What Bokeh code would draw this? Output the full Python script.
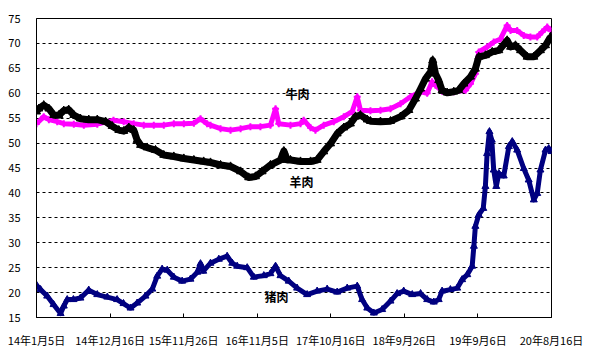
from bokeh.plotting import figure
from bokeh.models import FixedTicker, Range1d
from bokeh.core.properties import value
from bokeh.embed import file_html
from bokeh.resources import INLINE

# tick positions (days since 2014-01-05) and labels
tick_days = [0, 345, 690, 1035, 1380, 1725, 2070, 2415]
tick_labels = ["14年1月5日", "14年12月16日", "15年11月26日", "16年11月5日",
               "17年10月16日", "18年9月26日", "19年9月6日", "20年8月16日"]

# 牛肉 (beef)
beef_days = [0, 34, 58, 97, 128, 175, 222, 285, 361, 409, 456, 503, 550, 597, 644, 691,
             738, 769, 800, 816, 863, 910, 957, 1003, 1050, 1097, 1121, 1136, 1191, 1238,
             1253, 1285, 1308, 1347, 1394, 1441, 1480, 1504, 1519, 1566, 1613, 1660, 1707,
             1754, 1801, 1832, 1855, 1871, 1902, 1957, 2012, 2035, 2058, 2074, 2113, 2144,
             2176, 2207, 2223, 2254, 2285, 2316, 2348, 2371, 2395, 2410]
beef = [53.9, 55.3, 54.7, 54.3, 53.9, 53.8, 53.6, 53.8, 54.6, 54.3, 53.9, 53.6, 53.6, 53.6,
        53.9, 53.9, 54.0, 54.9, 53.9, 53.6, 52.9, 52.6, 52.9, 53.3, 53.3, 53.6, 56.9, 53.9,
        53.6, 53.9, 54.6, 53.1, 52.6, 53.6, 54.3, 55.3, 56.3, 59.3, 56.6, 56.5, 56.6, 56.9,
        57.9, 59.3, 60.3, 60.0, 62.3, 61.6, 60.4, 60.3, 60.6, 61.9, 63.9, 68.3, 69.3, 70.3,
        70.9, 73.6, 72.6, 72.6, 71.6, 71.3, 71.3, 72.3, 73.3, 72.6]

# 羊肉 (mutton)
mutton_days = [0, 11, 34, 58, 81, 105, 128, 151, 175, 206, 245, 285, 324, 355, 386, 409, 433,
               456, 472, 488, 519, 558, 597, 644, 691, 738, 784, 816, 863, 910, 957, 995,
               1027, 1058, 1097, 1144, 1160, 1176, 1191, 1238, 1285, 1316, 1347, 1379, 1410,
               1441, 1472, 1496, 1519, 1551, 1566, 1613, 1660, 1707, 1746, 1777, 1801, 1824,
               1848, 1858, 1871, 1886, 1902, 1926, 1957, 1980, 2004, 2035, 2058, 2074, 2105,
               2137, 2168, 2207, 2223, 2246, 2270, 2301, 2332, 2363, 2387, 2410]
mutton = [56.3, 56.9, 57.6, 56.9, 55.6, 55.6, 56.5, 56.7, 55.6, 54.9, 54.7, 54.7, 54.3, 53.4,
          52.6, 52.4, 53.1, 52.6, 50.6, 49.6, 49.1, 48.6, 47.6, 47.3, 46.9, 46.6, 46.3, 46.1,
          45.6, 45.3, 44.3, 43.1, 43.3, 44.3, 45.6, 46.6, 48.4, 46.6, 46.6, 46.3, 46.3, 46.6,
          48.3, 49.9, 51.9, 53.1, 53.9, 55.3, 55.6, 54.7, 54.4, 54.3, 54.4, 55.3, 56.6, 58.9,
          60.9, 62.9, 64.3, 66.6, 63.9, 62.6, 60.6, 60.1, 60.3, 60.6, 61.9, 63.3, 64.9, 67.3,
          67.6, 68.3, 68.6, 70.6, 69.3, 69.6, 68.6, 67.3, 67.3, 68.6, 69.6, 71.3]

# 猪肉 (pork)
pork_days = [0, 19, 50, 80, 113, 128, 144, 173, 206, 245, 285, 332, 378, 408, 441, 472, 511,
             543, 566, 589, 613, 644, 683, 722, 754, 769, 782, 816, 855, 894, 918, 941, 988,
             1019, 1066, 1097, 1121, 1144, 1183, 1222, 1269, 1316, 1363, 1410, 1457, 1504,
             1527, 1551, 1582, 1621, 1660, 1691, 1722, 1762, 1801, 1832, 1863, 1886, 1902,
             1941, 1973, 1996, 2020, 2043, 2051, 2058, 2074, 2095, 2105, 2113, 2124, 2135,
             2144, 2156, 2168, 2191, 2215, 2231, 2254, 2285, 2308, 2332, 2348, 2363, 2387,
             2402, 2415]
pork = [21.5, 20.6, 19.3, 17.6, 15.8, 17.3, 18.6, 18.6, 18.9, 20.5, 19.6, 19.1, 18.6, 17.8,
        16.9, 17.9, 19.3, 20.7, 23.3, 24.7, 24.5, 23.1, 22.3, 22.7, 24.1, 25.8, 24.3, 25.9,
        26.7, 27.3, 25.9, 25.3, 25.0, 23.1, 23.4, 23.8, 25.3, 23.4, 22.3, 20.9, 19.6, 20.3,
        20.7, 20.1, 20.9, 21.3, 18.6, 16.9, 15.9, 16.6, 18.3, 19.8, 20.3, 19.6, 19.8, 18.6,
        18.1, 18.6, 20.3, 20.6, 20.9, 22.6, 23.6, 25.3, 29.3, 33.3, 35.6, 36.9, 41.3, 47.9,
        52.3, 50.6, 44.6, 41.3, 43.9, 43.4, 49.3, 50.3, 48.6, 44.9, 42.6, 38.6, 39.9, 44.6,
        48.6, 48.9, 48.3]

labels = ["牛肉", "羊肉", "猪肉"]
label_x = [1224, 1243, 1125]
label_y = [60.0, 42.2, 19.2]

p = figure(width=600, height=358, output_backend="svg", toolbar_location=None,
           x_range=Range1d(0, 2415), y_range=Range1d(15, 75))
p.min_border_left = 36
p.min_border_right = 49
p.min_border_top = 18
p.min_border_bottom = 41
p.background_fill_color = "white"
p.border_fill_color = "white"
p.outline_line_color = "black"
p.outline_line_width = 1

p.xgrid.visible = False
p.ygrid.ticker = FixedTicker(ticks=list(range(20, 75, 5)))
p.ygrid.grid_line_color = "black"
p.ygrid.grid_line_dash = "3 3"
p.ygrid.grid_line_width = 1

p.yaxis.ticker = FixedTicker(ticks=list(range(15, 80, 5)))
p.yaxis.major_tick_line_color = None
p.yaxis.minor_tick_line_color = None
p.yaxis.axis_line_color = "black"
p.yaxis.major_label_standoff = 10
p.yaxis.major_label_text_font = "Liberation Sans Narrow, Noto Sans CJK SC"
p.yaxis.major_label_text_font_size = "11px"
p.yaxis.major_label_text_color = "black"

p.xaxis.ticker = FixedTicker(ticks=tick_days)
p.xaxis.major_label_overrides = {d: s for d, s in zip(tick_days, tick_labels)}
p.xaxis.major_tick_in = 4
p.xaxis.major_tick_out = 0
p.xaxis.minor_tick_line_color = None
p.xaxis.axis_line_color = "black"
p.xaxis.major_label_standoff = 14
p.xaxis.major_label_text_font = "Liberation Sans Narrow, Noto Sans CJK SC"
p.xaxis.major_label_text_font_size = "11px"
p.xaxis.major_label_text_color = "black"

p.line(beef_days, beef, line_color="#FF00FF", line_width=5, line_join="round")
p.scatter(beef_days, beef, marker="cross", size=7, line_color="#FF00FF", line_width=2)
p.line(mutton_days, mutton, line_color="black", line_width=7, line_join="round")
p.scatter(mutton_days, mutton, marker="triangle", size=8, color="black")
p.line(pork_days, pork, line_color="#000080", line_width=5, line_join="round")
p.scatter(pork_days, pork, marker="triangle", size=7, color="#000080")

p.text(x=label_x, y=label_y, text=labels, text_font=value("Noto Sans CJK SC"),
       text_font_size="12px", text_font_style="bold", text_align="center",
       text_baseline="middle", text_color="black")

open("out.html", "w").write(file_html(p, INLINE))
